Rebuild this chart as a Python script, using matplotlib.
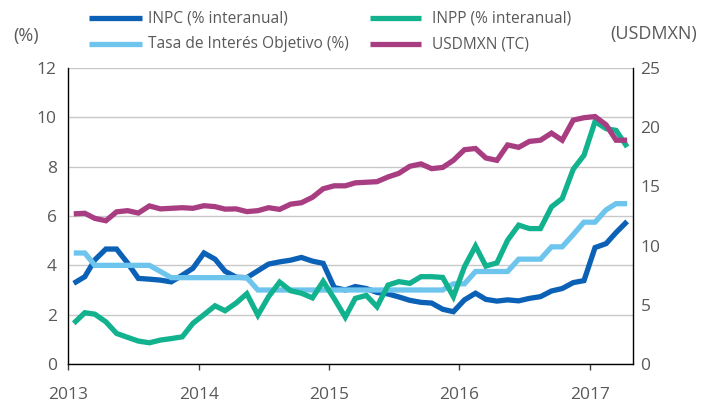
import matplotlib
matplotlib.use("Agg")
import matplotlib.pyplot as plt
import matplotlib.dates as mdates
import pandas as pd
from matplotlib.lines import Line2D

# monthly points, Jan 2013 - Apr 2017, drawn at mid-month
months = pd.date_range("2013-01-01", "2017-04-01", freq="MS") + pd.Timedelta(days=15)

inpc = [3.27, 3.54, 4.22, 4.66, 4.66, 4.09, 3.47, 3.44, 3.40, 3.33, 3.60, 3.88,
        4.50, 4.25, 3.76, 3.52, 3.50, 3.78, 4.05, 4.14, 4.21, 4.32, 4.17, 4.08,
        3.10, 3.00, 3.14, 3.06, 2.90, 2.84, 2.72, 2.58, 2.50, 2.47, 2.22, 2.12,
        2.60, 2.87, 2.62, 2.55, 2.60, 2.56, 2.66, 2.73, 2.96, 3.06, 3.30, 3.38,
        4.72, 4.88, 5.33, 5.78]

tasa = [4.50, 4.50, 4.00, 4.00, 4.00, 4.00, 4.00, 4.00, 3.75, 3.50, 3.50, 3.50,
        3.50, 3.50, 3.50, 3.50, 3.50, 3.00, 3.00, 3.00, 3.00, 3.00, 3.00, 3.00,
        3.00, 3.00, 3.00, 3.00, 3.00, 3.00, 3.00, 3.00, 3.00, 3.00, 3.00, 3.25,
        3.25, 3.75, 3.75, 3.75, 3.75, 4.25, 4.25, 4.25, 4.75, 4.75, 5.25, 5.75,
        5.75, 6.25, 6.50, 6.50]

inpp = [1.65, 2.08, 2.02, 1.71, 1.24, 1.08, 0.93, 0.86, 0.97, 1.03, 1.10, 1.65,
        2.00, 2.36, 2.16, 2.47, 2.85, 1.98, 2.73, 3.32, 2.97, 2.87, 2.68, 3.35,
        2.65, 1.90, 2.66, 2.78, 2.32, 3.20, 3.34, 3.27, 3.54, 3.54, 3.51, 2.73,
        3.94, 4.78, 3.97, 4.10, 5.02, 5.63, 5.49, 5.49, 6.37, 6.71, 7.90, 8.46,
        9.83, 9.54, 9.47, 8.80]

usdmxn = [12.68, 12.73, 12.30, 12.10, 12.85, 12.95, 12.75, 13.35, 13.10, 13.15, 13.20, 13.15,
          13.37, 13.29, 13.08, 13.10, 12.87, 12.95, 13.20, 13.06, 13.50, 13.62, 14.08, 14.80,
          15.05, 15.05, 15.30, 15.35, 15.40, 15.80, 16.10, 16.70, 16.90, 16.50, 16.60, 17.20,
          18.10, 18.20, 17.40, 17.20, 18.50, 18.30, 18.80, 18.90, 19.50, 18.90, 20.60, 20.80,
          20.90, 20.20, 18.90, 18.90]

left_ticks = [0, 2, 4, 6, 8, 10, 12]
right_ticks = [0, 5, 10, 15, 20, 25]

SERIES = [
    ("INPC (% interanual)", inpc, "#0a61b6", "left"),
    ("Tasa de Interés Objetivo (%)", tasa, "#6dc4ec", "left"),
    ("INPP (% interanual)", inpp, "#12b28e", "left"),
    ("USDMXN (TC)", usdmxn, "#a83d82", "right"),
]

TEXT_COLOR = "#595959"
LW = 3.8

plt.rcParams["font.family"] = ["Open Sans", "DejaVu Sans"]

W, H = 705, 403
fig = plt.figure(figsize=(W / 100, H / 100), dpi=100)
ax = fig.add_axes([68.4 / W, 1 - 364 / H, (632.5 - 68.4) / W, (364 - 68) / H])
ax2 = ax.twinx()

for label, values, color, side in SERIES:
    target = ax if side == "left" else ax2
    target.plot(months, values, color=color, lw=LW, solid_joinstyle="miter",
                solid_capstyle="butt")

ax.set_ylim(0, 12)
ax.set_yticks(left_ticks)
ax2.set_ylim(0, 25)
ax2.set_yticks(right_ticks)
ax.set_xlim(pd.Timestamp("2013-01-01"), pd.Timestamp("2017-05-01"))
ax.xaxis.set_major_locator(mdates.YearLocator())
ax.xaxis.set_major_formatter(mdates.DateFormatter("%Y"))

ax.grid(axis="y", color="#c8c8c8", lw=1)
ax.set_axisbelow(True)

for spine in ["top", "right"]:
    ax.spines[spine].set_visible(False)
for spine in ["top", "left", "bottom"]:
    ax2.spines[spine].set_visible(False)
for a in (ax, ax2):
    for spine in a.spines.values():
        spine.set_linewidth(1)
        spine.set_color("black")

ax.tick_params(axis="y", length=0, pad=8.4, labelsize=12.5, labelcolor=TEXT_COLOR)
ax2.tick_params(axis="y", length=0, pad=5.8, labelsize=12.5, labelcolor=TEXT_COLOR)
ax.tick_params(axis="x", length=4.5, width=1, pad=12, labelsize=12.5,
               labelcolor=TEXT_COLOR, color="#404040")

fig.text(26 / W, 1 - 36.5 / H, "(%)", ha="center", va="center", fontsize=13, color=TEXT_COLOR)
fig.text(654 / W, 1 - 34 / H, "(USDMXN)", ha="center", va="center", fontsize=13,
         color=TEXT_COLOR)

# legend drawn by hand: 2 columns x 2 rows
handle_x = [(89, 142), (370, 421)]
text_x = [148, 432]
row_y = [18.3, 44.3]
order = [(0, 0), (0, 1), (1, 0), (1, 1)]
for (label, values, color, side), (col, row) in zip(SERIES, order):
    y = 1 - row_y[row] / H
    x0, x1 = handle_x[col]
    fig.add_artist(Line2D([x0 / W, x1 / W], [y, y], transform=fig.transFigure,
                          color=color, lw=LW, solid_capstyle="butt"))
    fig.text(text_x[col] / W, y, label, ha="left", va="center", fontsize=11.2,
             color=TEXT_COLOR)

fig.savefig("out.png", dpi=100)
